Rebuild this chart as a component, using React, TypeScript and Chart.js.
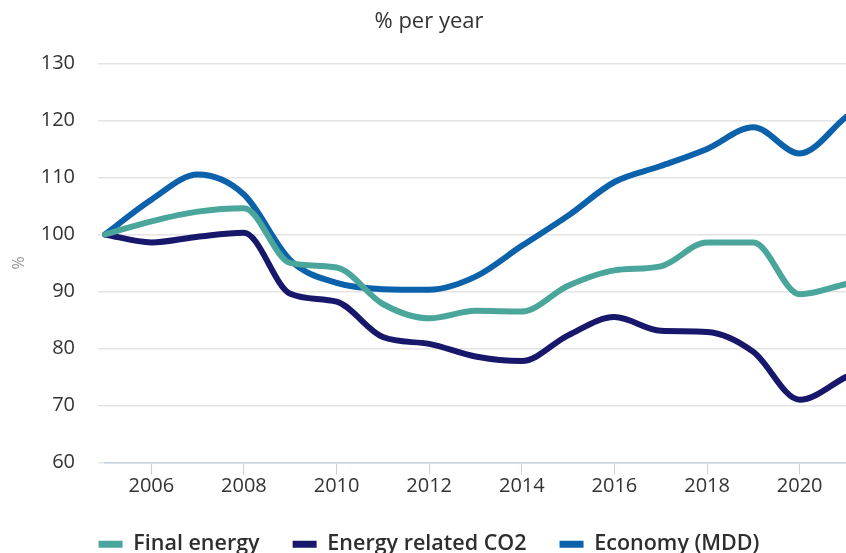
import React, { useEffect, useRef } from "react";
import { Chart, registerables } from "chart.js";

Chart.register(...registerables);

const years = [
  "2005", "2006", "2007", "2008", "2009", "2010", "2011", "2012", "2013",
  "2014", "2015", "2016", "2017", "2018", "2019", "2020", "2021",
];

const finalEnergy = [
  100, 102.3, 104.0, 104.6, 95.0, 94.2, 87.8, 85.3, 86.6, 86.5, 91.0, 93.7,
  94.4, 98.6, 98.6, 89.5, 91.3,
];

const energyCO2 = [
  100, 98.6, 99.6, 100.3, 89.6, 88.2, 82.0, 80.8, 78.6, 77.8, 82.3, 85.5,
  83.1, 82.9, 79.4, 71.0, 75.0,
];

const economy = [
  100, 106.1, 110.5, 107.0, 95.5, 91.5, 90.4, 90.3, 92.6, 98.0, 103.3, 109.2,
  112.0, 115.0, 118.8, 114.2, 120.6,
];

const seriesNames = ["Final energy", "Energy related CO2", "Economy (MDD)"];
const seriesColors = ["#4aa59b", "#17176b", "#0b61aa"];

const FONT = "'Open Sans', 'Noto Sans', sans-serif";

export default function App() {
  const canvasRef = useRef<HTMLCanvasElement | null>(null);

  useEffect(() => {
    if (!canvasRef.current) return;
    const values = [finalEnergy, energyCO2, economy];
    const chart = new Chart(canvasRef.current, {
      type: "line",
      data: {
        labels: years,
        datasets: seriesNames.map((name, i) => ({
          label: name,
          data: values[i],
          borderColor: seriesColors[i],
          backgroundColor: seriesColors[i],
          borderWidth: 6,
          pointRadius: 0,
          cubicInterpolationMode: "monotone" as const,
          borderCapStyle: "round" as const,
          borderJoinStyle: "round" as const,
          fill: false,
        })),
      },
      options: {
        responsive: false,
        animation: false,
        layout: { padding: { left: 12, right: 14, top: 0, bottom: -12 } },
        plugins: {
          title: {
            display: true,
            text: "% per year",
            color: "#333333",
            font: { family: FONT, size: 22, weight: "normal" },
            padding: { top: 9, bottom: 28 },
          },
          legend: {
            position: "bottom",
            labels: {
              boxWidth: 24,
              boxHeight: 7,
              padding: 33,
              color: "#2e2e2e",
              font: { family: FONT, size: 21.5, weight: 600 },
              generateLabels: (c: Chart) =>
                Chart.defaults.plugins.legend.labels
                  .generateLabels(c)
                  .map((l: any) => ({ ...l, lineWidth: 0 })),
            },
          },
          tooltip: { enabled: false },
        },
        scales: {
          x: {
            afterFit: (scale: any) => {
              scale.height = scale.height + 2;
            },
            grid: {
              drawOnChartArea: false,
              drawTicks: true,
              tickLength: 12,
              tickWidth: 1,
              tickColor: (ctx: any) =>
                Number(years[ctx.index]) % 2 === 0 ? "#c8d0e2" : "rgba(0,0,0,0)",
            },
            border: { display: true, color: "#c8d0e2", width: 1.5 },
            ticks: {
              autoSkip: false,
              maxRotation: 0,
              padding: 0,
              color: "#333333",
              font: { family: FONT, size: 20 },
              callback: (_v: any, i: number) =>
                Number(years[i]) % 2 === 0 && i < years.length - 1 ? years[i] : "",
            },
          },
          y: {
            min: 60,
            max: 130,
            afterFit: (scale: any) => {
              scale.width = 93;
            },
            grid: {
              color: "#e4e4e4",
              lineWidth: 1.5,
              drawTicks: true,
              tickLength: 7,
            },
            border: { display: false },
            ticks: {
              stepSize: 10,
              padding: 23,
              color: "#333333",
              font: { family: FONT, size: 20 },
            },
            title: {
              display: true,
              text: "%",
              color: "#9a9a9a",
              font: { family: FONT, size: 16 },
              padding: { top: -2, bottom: 0 },
            },
          },
        },
      },
    });
    return () => chart.destroy();
  }, []);

  return (
    <div
      style={{
        position: "fixed",
        left: 0,
        top: 0,
        width: 846,
        height: 553,
        overflow: "hidden",
        background: "#ffffff",
      }}
    >
      <canvas ref={canvasRef} width={860} height={553} />
    </div>
  );
}
